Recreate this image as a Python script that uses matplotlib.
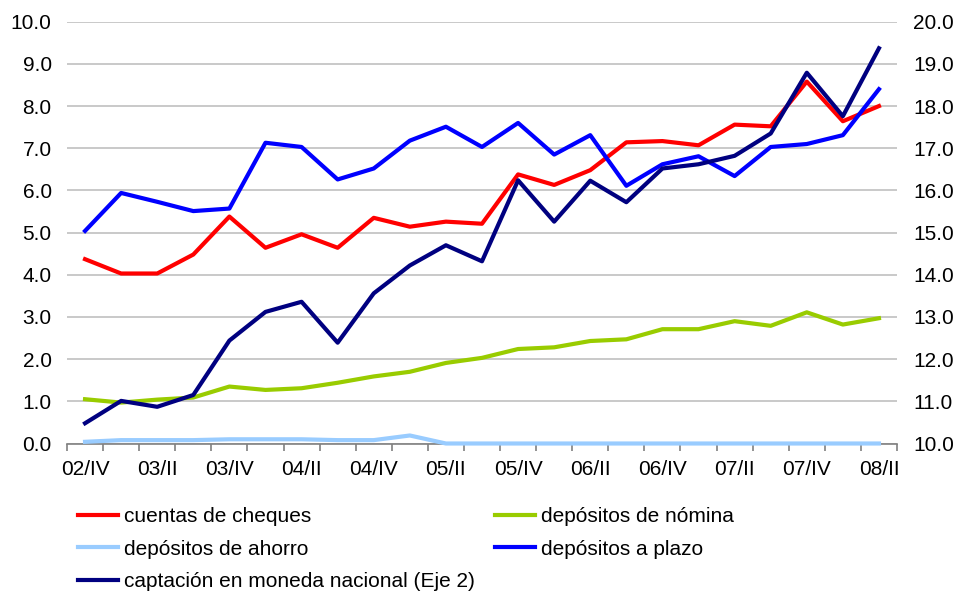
import numpy as np
from matplotlib import pyplot as plt
from matplotlib.lines import Line2D

plt.rcParams["font.family"] = ["Liberation Sans", "DejaVu Sans"]
plt.rcParams["font.size"] = 15

# ------------------------------------------------------------------
# Data
# ------------------------------------------------------------------
quarters = [
    "02/IV", "03/I", "03/II", "03/III", "03/IV", "04/I", "04/II", "04/III",
    "04/IV", "05/I", "05/II", "05/III", "05/IV", "06/I", "06/II", "06/III",
    "06/IV", "07/I", "07/II", "07/III", "07/IV", "08/I", "08/II",
]

cheques = [4.37, 4.03, 4.03, 4.48, 5.38, 4.64, 4.96, 4.64, 5.35, 5.14, 5.26, 5.21,
           6.38, 6.13, 6.48, 7.14, 7.17, 7.07, 7.56, 7.52, 8.58, 7.64, 8.00]
nomina = [1.05, 0.97, 1.04, 1.09, 1.35, 1.27, 1.31, 1.44, 1.59, 1.70, 1.91, 2.03,
          2.24, 2.28, 2.43, 2.47, 2.71, 2.71, 2.90, 2.79, 3.11, 2.82, 2.97]
ahorro = [0.04, 0.08, 0.08, 0.08, 0.10, 0.10, 0.10, 0.08, 0.08, 0.19, 0.0, 0.0,
          0.0, 0.0, 0.0, 0.0, 0.0, 0.0, 0.0, 0.0, 0.0, 0.0, 0.0]
plazo = [5.04, 5.94, 5.73, 5.51, 5.57, 7.13, 7.03, 6.26, 6.52, 7.18, 7.51, 7.03,
         7.60, 6.85, 7.31, 6.11, 6.62, 6.81, 6.34, 7.03, 7.10, 7.31, 8.40]
captacion = [10.48, 11.01, 10.87, 11.15, 12.44, 13.12, 13.36, 12.39, 13.56, 14.22,
             14.70, 14.32, 16.24, 15.26, 16.23, 15.72, 16.52, 16.62, 16.82, 17.35,
             18.79, 17.76, 19.37]

labels_left = ["cuentas de cheques", "depósitos de ahorro",
               "captación en moneda nacional (Eje 2)"]
labels_right = ["depósitos de nómina", "depósitos a plazo"]

c_cheques = "#ff0000"
c_nomina = "#99cc00"
c_ahorro = "#99ccff"
c_plazo = "#0000ff"
c_captacion = "#000080"

# ------------------------------------------------------------------
# Figure
# ------------------------------------------------------------------
fig = plt.figure(figsize=(9.58, 5.94), dpi=100)
ax = fig.add_axes([67 / 958, 1 - 443.5 / 594, 830 / 958, 421.8 / 594])
x = np.arange(len(quarters))
lw = 3.0

ax.plot(x, cheques, color=c_cheques, lw=lw, zorder=3)
ax.plot(x, nomina, color=c_nomina, lw=lw, zorder=3)
ax.plot(x, ahorro, color=c_ahorro, lw=lw, zorder=3, clip_on=False)
ax.plot(x, plazo, color=c_plazo, lw=lw, zorder=3)

ax.set_xlim(-0.5, len(quarters) - 0.5)
ax.set_ylim(0, 10)
ax.set_yticks(np.arange(0, 10.5, 1))
ax.set_yticklabels([f"{v:.1f}" for v in np.arange(0, 10.5, 1)])
ax.grid(axis="y", color="#c0c0c0", lw=1.2)
ax.set_axisbelow(True)

ax.set_xticks(x[::2])
ax.set_xticklabels(quarters[::2])
ax.set_xticks(np.arange(-0.5, len(quarters), 1), minor=True)
ax.tick_params(axis="x", which="major", length=0, pad=12)
ax.tick_params(axis="x", which="minor", length=5, width=1.2, color="#808080")
ax.tick_params(axis="y", length=0, pad=11)

for side in ["top", "left", "right"]:
    ax.spines[side].set_visible(False)
ax.spines["bottom"].set_color("#808080")
ax.spines["bottom"].set_linewidth(1.2)

ax2 = ax.twinx()
ax2.plot(x, captacion, color=c_captacion, lw=lw, zorder=4)
ax2.set_ylim(10, 20)
ax2.set_yticks(np.arange(10, 20.5, 1))
ax2.set_yticklabels([f"{v:.1f}" for v in np.arange(10, 20.5, 1)])
ax2.tick_params(axis="y", length=0, pad=11.5)
for side in ["top", "left", "right", "bottom"]:
    ax2.spines[side].set_visible(False)

# ------------------------------------------------------------------
# Legend (two columns placed separately)
# ------------------------------------------------------------------
h_left = [Line2D([], [], color=c, lw=lw) for c in [c_cheques, c_ahorro, c_captacion]]
h_right = [Line2D([], [], color=c, lw=lw) for c in [c_nomina, c_plazo]]
common = dict(loc="upper left", frameon=False, borderpad=0, borderaxespad=0,
              handlelength=1.9, handletextpad=0.3, labelspacing=0.65, fontsize=15)
fig.legend(h_left, labels_left, bbox_to_anchor=(78 / 958, 1 - 507 / 594), **common)
fig.legend(h_right, labels_right, bbox_to_anchor=(495 / 958, 1 - 507 / 594), **common)

fig.savefig("out.png", dpi=100)
